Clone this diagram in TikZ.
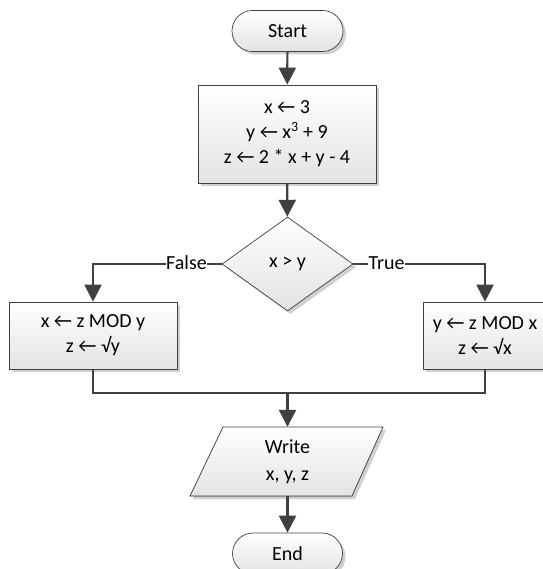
\documentclass[tikz,border=0pt]{standalone}
\usepackage{fontspec}
\setmainfont{Carlito}
\usetikzlibrary{shapes.geometric,shapes.misc,arrows.meta,shadows}
\definecolor{ln}{HTML}{404040}
\definecolor{bd}{HTML}{404040}
\definecolor{shd}{HTML}{D0D0D0}
\begin{document}
\begin{tikzpicture}[x=1pt,y=-1pt,
  base/.style={draw=bd, line width=0.7pt, top color=white, bottom color=black!11,
    drop shadow={shadow xshift=3pt, shadow yshift=-3pt, fill=shd, opacity=1},
    font=\fontsize{20}{25}\selectfont, align=center, inner sep=0pt},
  term/.style={base, rounded rectangle, minimum width=111pt, minimum height=41pt},
  proc/.style={base, rectangle},
  dec/.style={base, diamond, minimum width=131pt, minimum height=94pt},
  txt/.style={font=\fontsize{20}{27}\selectfont, align=center, inner sep=0pt},
  lbl/.style={font=\fontsize{20}{22}\selectfont, fill=white, inner sep=0.5pt},
  conn/.style={draw=ln, line width=2.2pt},
  arr/.style={conn, -{Triangle[width=17pt,length=17pt]}}
]
\useasboundingbox (0,0) rectangle (542,569);

\node[term] (start) at (287.5,31) {Start};
\node[proc, minimum width=178pt, minimum height=98pt] (init) at (287,134)
  {x ← 3\\y ← x\textsuperscript{3} + 9\\z ← 2 * x + y - 4};
\node[dec] (cond) at (287.5,264) {x > y};
\node[proc, minimum width=168pt, minimum height=67pt] (fbox) at (93,335.5)
  {x ← z MOD y\\z ← √y};
\node[proc, minimum width=124pt, minimum height=67pt] (tbox) at (485,335.5)
  {y ← z MOD x\\z ← √x};

\filldraw[draw=bd, line width=0.7pt, top color=white, bottom color=black!11,
    drop shadow={shadow xshift=3pt, shadow yshift=-3pt, fill=shd, opacity=1}]
  (223,427) -- (383,427) -- (352,496) -- (190,496) -- cycle;
\node[txt, minimum width=130pt, minimum height=69pt] (io) at (287.5,461.5) {Write\\x, y, z};
\node[term, minimum width=110pt] (end) at (287.5,553.5) {End};

\coordinate (m) at (287.5,393);

\draw[arr] (start) -- (init);
\draw[arr] (init) -- (cond);
\draw[arr] (cond.west) -| (fbox.north);
\draw[arr] (cond.east) -| (tbox.north);
\draw[conn] (fbox.south) |- (m) -| (tbox.south);
\draw[arr] (m) -- (io.north);
\draw[arr] (io.south) -- (end.north);

\node[lbl, anchor=east] (lf) at (207.5,263) {False};
\node[lbl, anchor=west] (lt) at (368,263) {True};
\end{tikzpicture}
\end{document}
